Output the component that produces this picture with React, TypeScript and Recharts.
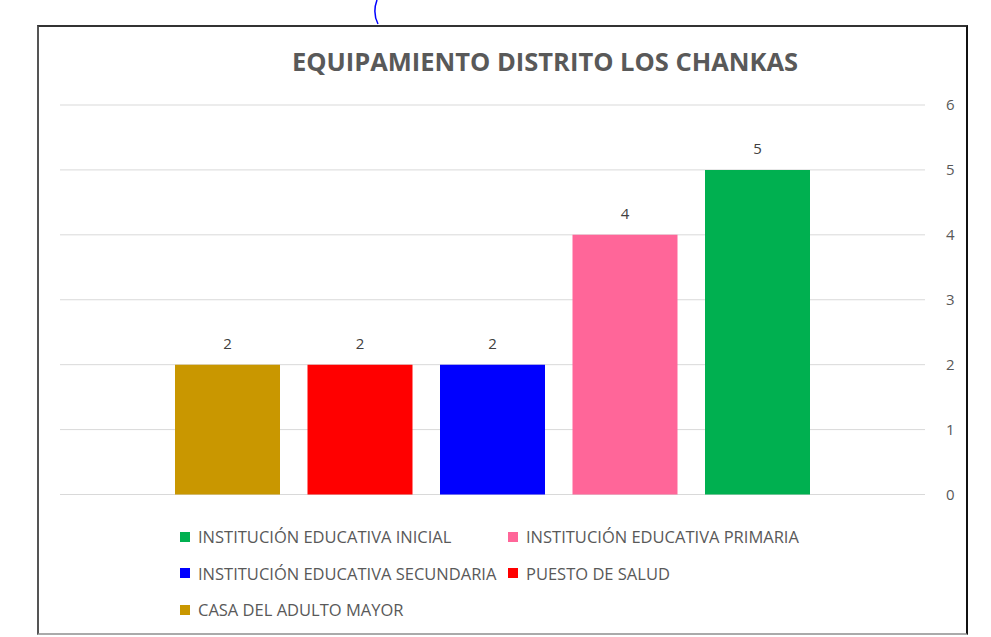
import React from "react"
import { Bar, BarChart, CartesianGrid, LabelList, Legend, XAxis, YAxis } from "recharts"

// series in drawing order (left to right)
const seriesKeys = ["casa", "salud", "secundaria", "primaria", "inicial"]
const seriesNames = [
  "CASA DEL ADULTO MAYOR",
  "PUESTO DE SALUD",
  "INSTITUCIÓN EDUCATIVA SECUNDARIA",
  "INSTITUCIÓN EDUCATIVA PRIMARIA",
  "INSTITUCIÓN EDUCATIVA INICIAL",
]
const seriesValues = [2, 2, 2, 4, 5]
const seriesColors = ["#C99700", "#FF0000", "#0000FF", "#FF6699", "#00B050"]
const yTicks = [0, 1, 2, 3, 4, 5, 6]
// legend lists the series the other way round
const legendOrder = [...seriesNames].reverse()

const row: Record<string, string | number> = { name: "" }
seriesKeys.forEach((k, i) => {
  row[k] = seriesValues[i]
})
const chartData = [row]

const FONT = "'Open Sans', sans-serif"
const GREY = "#595959"

function LegendBox(props: any) {
  const payload = props.payload || []
  const items = legendOrder
    .map((n) => payload.find((p: any) => p.value === n))
    .filter(Boolean)
  return (
    <div
      style={{
        display: "grid",
        gridTemplateColumns: "328px 330px",
        paddingTop: 24,
        fontFamily: FONT,
        fontSize: 16.5,
        color: GREY,
        textAlign: "left",
      }}
    >
      {items.map((it: any) => (
        <div key={it.value} style={{ display: "flex", alignItems: "center", height: 36.5, whiteSpace: "nowrap" }}>
          <span style={{ display: "inline-block", width: 10, height: 10, background: it.color, marginRight: 8 }} />
          {it.value}
        </div>
      ))}
    </div>
  )
}

export default function App() {
  return (
    <div style={{ position: "absolute", left: 0, top: 0, width: 991, height: 637, background: "#fff", overflow: "hidden" }}>
      <svg width={20} height={26} style={{ position: "absolute", left: 368, top: 0 }}>
        <path d="M9 0 C 6 8, 6 16, 10 24" stroke="#0000FF" strokeWidth={1.5} fill="none" />
      </svg>
      <div
        style={{
          position: "absolute",
          left: 37,
          top: 25,
          width: 927,
          height: 606,
          borderLeft: "2px solid #555",
          borderTop: "2px solid #333",
          borderRight: "2px solid #111",
          borderBottom: "2px solid #aaa",
        }}
      />
      <div
        style={{
          position: "absolute",
          left: 0,
          width: 1090,
          top: 44,
          textAlign: "center",
          fontFamily: FONT,
          fontWeight: 700,
          fontSize: 25.5,
          color: GREY,
        }}
      >
        EQUIPAMIENTO DISTRITO LOS CHANKAS
      </div>
      <div style={{ position: "absolute", left: 0, top: 0 }}>
        <BarChart
          width={991}
          height={637}
          data={chartData}
          margin={{ top: 105, right: 16, bottom: 9, left: 60 }}
          barCategoryGap={115}
          barGap={27.5}
        >
          <CartesianGrid vertical={false} stroke="#d9d9d9" />
          <XAxis dataKey="name" hide />
          <YAxis
            orientation="right"
            domain={[0, 6]}
            ticks={yTicks}
            width={50}
            axisLine={false}
            tickLine={false}
            tickMargin={15}
            tick={{ fill: GREY, fontSize: 15, fontFamily: FONT, textAnchor: "start" }}
          />
          <Legend
            verticalAlign="bottom"
            align="left"
            content={<LegendBox />}
            wrapperStyle={{ left: 180, width: 700 }}
          />
          {seriesKeys.map((k, i) => (
            <Bar key={k} dataKey={k} name={seriesNames[i]} fill={seriesColors[i]} isAnimationActive={false}>
              <LabelList
                dataKey={k}
                position="top"
                offset={16}
                style={{ fill: "#404040", fontSize: 15, fontFamily: FONT }}
              />
            </Bar>
          ))}
        </BarChart>
      </div>
    </div>
  )
}
